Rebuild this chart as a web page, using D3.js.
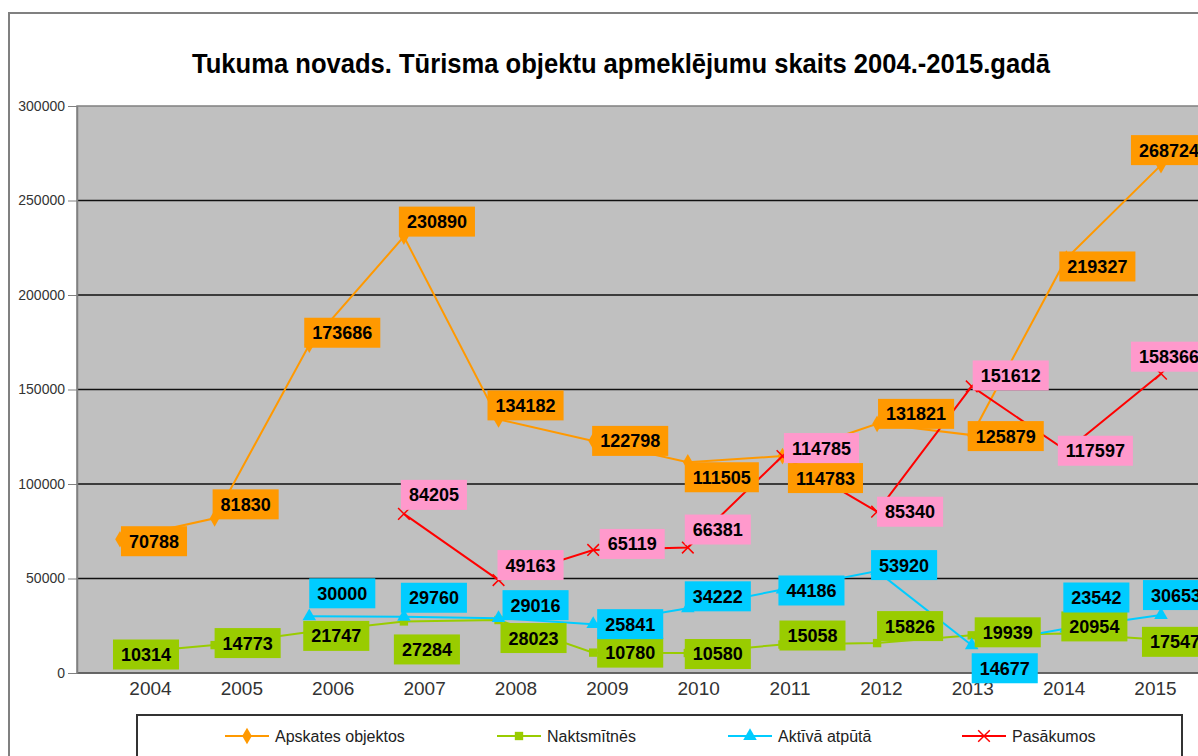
<!DOCTYPE html>
<html>
<head>
<meta charset="utf-8">
<script src="https://cdn.jsdelivr.net/npm/d3@7"></script>
<style>
  body { margin: 0; background: #fff; overflow: hidden; }
  svg { display: block; font-family: "Liberation Sans", Arial, sans-serif; }
</style>
</head>
<body>
<svg id="chart"></svg>
<script>
const WIDTH = 1198;
const HEIGHT = 756;

const TITLE = "Tukuma novads. Tūrisma objektu apmeklējumu skaits 2004.-2015.gadā";

const years = ["2004", "2005", "2006", "2007", "2008", "2009", "2010", "2011", "2012", "2013", "2014", "2015"];
const yTicks = [0, 50000, 100000, 150000, 200000, 250000, 300000];

// series values (null = no data that year)
const apskates = [70788, 81830, 173686, 230890, 134182, 122798, 111505, 114783, 131821, 125879, 219327, 268724];
const naktsmitnes = [10314, 14773, 21747, 27284, 28023, 10780, 10580, 15058, 15826, 19939, 20954, 17547];
const aktiva = [null, null, 30000, 29760, 29016, 25841, 34222, 44186, 53920, 14677, 23542, 30653];
const pasakumi = [null, null, null, 84205, 49163, 65119, 66381, 114785, 85340, 151612, 117597, 158366];

const seriesNames = ["Apskates objektos", "Naktsmītnēs", "Aktīvā atpūtā", "Pasākumos"];

// where each data label box sits relative to its point
const apskatesShift = [[34, 2], [31, -14], [33, -12], [33, -15], [27, -14], [37, 0], [34, 15], [43, 22], [39, -10], [34, 1], [31, 8], [8, -15]];
const naktsmitnesShift = [[26, 1], [33, -2], [27, 4], [23, 28], [35, 18], [37, 0], [30, 1], [30, -9], [33, -17], [36, -3], [28, -7], [14, 2]];
const aktivaShift = [null, null, [33, -23], [30, -19], [37, -13], [37, 0], [30, -12], [29, 1], [27, -6], [33, 23], [30, -31], [15, -20]];
const pasakumiShift = [null, null, null, [30, -19], [32, -15], [39, -6], [30, -18], [39, -8], [33, 0], [39, -11], [29, 0], [8, -17]];

const series = [
  { name: seriesNames[0], values: apskates, shift: apskatesShift, line: "#FF9900", box: "#FF9900", symbol: d3.symbolDiamond, size: 80, fill: true },
  { name: seriesNames[1], values: naktsmitnes, shift: naktsmitnesShift, line: "#99CC00", box: "#99CC00", symbol: d3.symbolSquare, size: 70, fill: true },
  { name: seriesNames[2], values: aktiva, shift: aktivaShift, line: "#00CCFF", box: "#00CCFF", symbol: d3.symbolTriangle, size: 80, fill: true },
  { name: seriesNames[3], values: pasakumi, shift: pasakumiShift, line: "#FF0000", box: "#FF99CC", symbol: d3.symbolTimes, size: 90, fill: false }
];

const legendX = [225, 497, 728, 962];

const $svg = d3.select("#chart").attr("width", WIDTH).attr("height", HEIGHT);

const x = d3.scalePoint().domain(years).range([120, 1161]);
const xLabel = d3.scalePoint().domain(years).range([150, 1155]);
const y = d3.scaleLinear().domain([0, 300000]).range([673, 106]);

// outer chart frame
$svg.append("path")
  .attr("d", "M9,760 V13 H1210")
  .attr("fill", "none")
  .attr("stroke", "#808080")
  .attr("stroke-width", 2);

// title
$svg.append("text")
  .attr("x", 621)
  .attr("y", 73)
  .attr("text-anchor", "middle")
  .attr("font-size", 27)
  .attr("font-weight", "bold")
  .attr("textLength", 858)
  .attr("lengthAdjust", "spacingAndGlyphs")
  .attr("fill", "#000")
  .text(TITLE);

// plot area
$svg.append("rect")
  .attr("x", 77).attr("y", y(300000))
  .attr("width", 1300).attr("height", y(0) - y(300000))
  .attr("fill", "#C0C0C0")
  .attr("stroke", "#808080")
  .attr("stroke-width", 1.5);

$svg.append("g")
  .selectAll("line")
  .data(yTicks.filter(d => d > 0 && d < 300000))
  .enter()
  .append("line")
  .attr("x1", 77).attr("x2", 1300)
  .attr("y1", d => y(d)).attr("y2", d => y(d))
  .attr("stroke", "#111")
  .attr("stroke-width", 1.3);

$svg.append("line")
  .attr("x1", 77).attr("x2", 1300)
  .attr("y1", y(0)).attr("y2", y(0))
  .attr("stroke", "#555")
  .attr("stroke-width", 1.5);

// y axis
const yAxis = $svg.append("g")
  .attr("transform", "translate(77,0)")
  .call(d3.axisLeft(y).tickValues(yTicks).tickFormat(d3.format("d")).tickSize(9).tickSizeOuter(0).tickPadding(3));
yAxis.select(".domain").attr("stroke", "#808080").attr("stroke-width", 1.5);
yAxis.selectAll(".tick line").attr("stroke", "#808080");
yAxis.selectAll(".tick text")
  .attr("font-size", 14)
  .attr("font-family", "'Liberation Sans', Arial, sans-serif")
  .attr("fill", "#333");

// x axis
const xAxis = $svg.append("g")
  .attr("transform", `translate(0,${y(0)})`)
  .call(d3.axisBottom(xLabel).tickSize(0).tickPadding(9));
xAxis.select(".domain").remove();
xAxis.selectAll(".tick text")
  .attr("font-size", 19)
  .attr("font-family", "'Liberation Sans', Arial, sans-serif")
  .attr("fill", "#333");

// lines
const line = d3.line()
  .defined(d => d.v != null)
  .x(d => x(d.year))
  .y(d => y(d.v));

series.forEach(s => {
  const pts = years.map((year, i) => ({ year, v: s.values[i], shift: s.shift[i] }));
  s.pts = pts;
  $svg.append("path")
    .datum(pts)
    .attr("d", line)
    .attr("fill", "none")
    .attr("stroke", s.line)
    .attr("stroke-width", 2);

  $svg.append("g")
    .selectAll("path")
    .data(pts.filter(d => d.v != null))
    .enter()
    .append("path")
    .attr("d", d3.symbol().type(s.symbol).size(s.size))
    .attr("transform", d => `translate(${x(d.year)},${y(d.v)})`)
    .attr("fill", s.fill ? s.line : "none")
    .attr("stroke", s.line)
    .attr("stroke-width", s.fill ? 0 : 1.5);
});

// data labels
series.forEach(s => {
  const g = $svg.append("g")
    .selectAll("g")
    .data(s.pts.filter(d => d.v != null))
    .enter()
    .append("g")
    .attr("transform", d => `translate(${x(d.year) + d.shift[0]},${y(d.v) + d.shift[1]})`);

  g.append("rect").attr("fill", s.box);
  const txt = g.append("text")
    .attr("text-anchor", "middle")
    .attr("dy", "0.36em")
    .attr("font-size", 18)
    .attr("font-weight", "bold")
    .attr("fill", "#000")
    .text(d => d.v);

  txt.each(function() {
    const w = this.getComputedTextLength() + 16;
    d3.select(this.parentNode).select("rect")
      .attr("x", -w / 2).attr("y", -15)
      .attr("width", w).attr("height", 30);
  });
});

// legend
$svg.append("rect")
  .attr("x", 137).attr("y", 715)
  .attr("width", 1045).attr("height", 60)
  .attr("fill", "#fff")
  .attr("stroke", "#333")
  .attr("stroke-width", 2);

const legend = $svg.append("g")
  .selectAll("g")
  .data(series)
  .enter()
  .append("g")
  .attr("transform", (d, i) => `translate(${legendX[i]},736)`);

legend.append("line")
  .attr("x1", 0).attr("x2", 44)
  .attr("stroke", d => d.line)
  .attr("stroke-width", 2);

legend.append("path")
  .attr("d", d => d3.symbol().type(d.symbol).size(d.size)())
  .attr("transform", "translate(22,0)")
  .attr("fill", d => d.fill ? d.line : "none")
  .attr("stroke", d => d.line)
  .attr("stroke-width", d => d.fill ? 0 : 1.5);

legend.append("text")
  .attr("x", 50)
  .attr("dy", "0.36em")
  .attr("font-size", 16)
  .attr("fill", "#222")
  .text(d => d.name);
</script>
</body>
</html>
